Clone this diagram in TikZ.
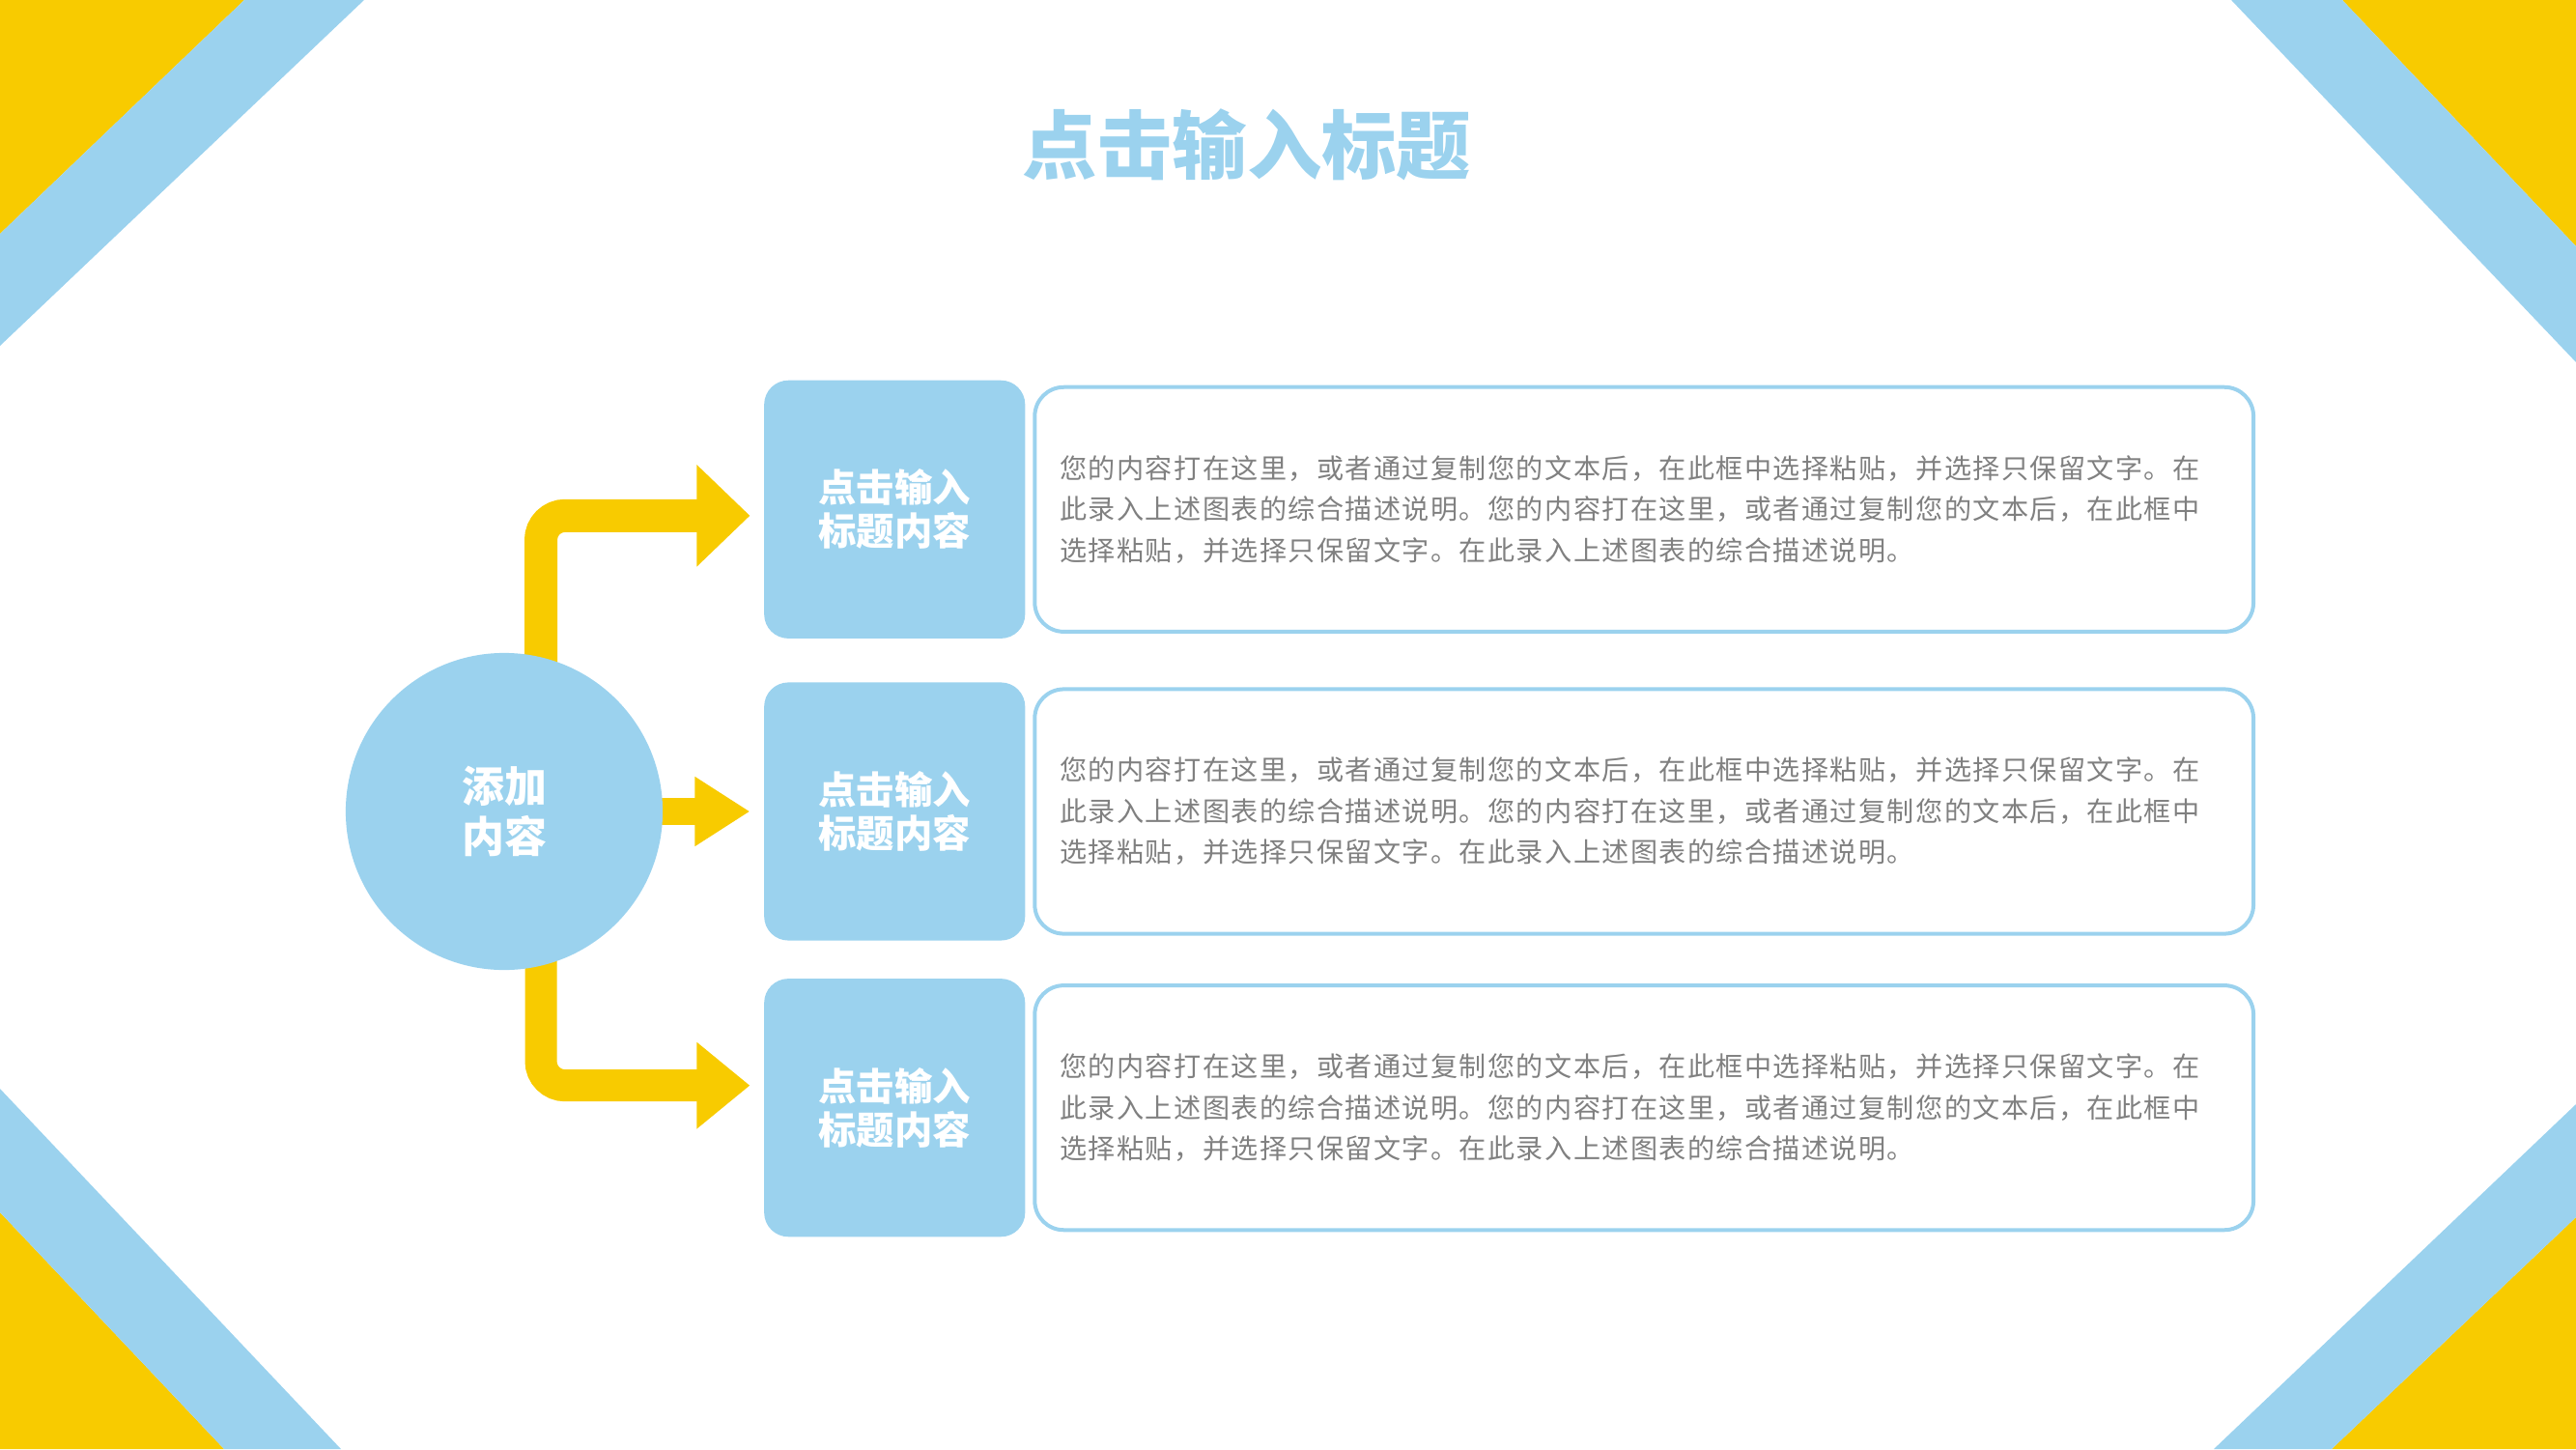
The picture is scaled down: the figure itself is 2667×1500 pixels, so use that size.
\documentclass[tikz,border=0pt]{standalone}
\usepackage{fontspec}
\setmainfont{Noto Sans CJK SC}
\newfontfamily\bodyfont{Noto Sans CJK SC}[LetterSpace=5]
\usepackage{tikz}
\usetikzlibrary{arrows.meta,positioning,backgrounds}
\definecolor{skyblue}{RGB}{155,210,238}
\definecolor{sunyellow}{RGB}{248,203,0}
\definecolor{textgray}{RGB}{128,128,128}
\tikzset{
  hub/.style={circle,fill=skyblue,text=white,inner sep=0pt,minimum size=3.28cm,
    align=center,font=\bfseries\fontsize{12.5}{15}\selectfont},
  titlebox/.style={rectangle,rounded corners=2.5mm,fill=skyblue,text=white,
    minimum width=2.7cm,minimum height=2.67cm,align=center,
    font=\bfseries\fontsize{11.2}{12.8}\selectfont},
  descbox/.style={rectangle,rounded corners=3mm,draw=skyblue,line width=0.4mm,
    minimum width=12.61cm,minimum height=2.53cm,text width=12.09cm,align=left,
    text=textgray,font=\bodyfont\fontsize{8}{12.1}\selectfont},
  flow/.style={draw=sunyellow,rounded corners=2.5mm,shorten >=1.4mm}
}
\newcommand{\desctext}{您的内容打在这里，或者通过复制您的文本后，在此框中选择粘贴，并选择只保留文字。在\\
此录入上述图表的综合描述说明。您的内容打在这里，或者通过复制您的文本后，在此框中\\
选择粘贴，并选择只保留文字。在此录入上述图表的综合描述说明。}

\begin{document}
\begin{tikzpicture}[x=0.01cm,y=-0.01cm,on grid]
  \useasboundingbox (0,0) rectangle (2667,1500);
  % corner stripes
  \fill[sunyellow] (0,0) -- (253,0) -- (0,242) -- cycle;
  \fill[skyblue] (253,0) -- (377,0) -- (0,358) -- (0,242) -- cycle;
  \fill[sunyellow] (2425,0) -- (2667,0) -- (2667,255) -- cycle;
  \fill[skyblue] (2310,0) -- (2425,0) -- (2667,255) -- (2667,375) -- cycle;
  \fill[sunyellow] (0,1255) -- (232,1500) -- (0,1500) -- cycle;
  \fill[skyblue] (0,1127) -- (353,1500) -- (232,1500) -- (0,1255) -- cycle;
  \fill[sunyellow] (2667,1260) -- (2667,1500) -- (2414,1500) -- cycle;
  \fill[skyblue] (2667,1143) -- (2667,1260) -- (2414,1500) -- (2292,1500) -- cycle;

  \node[text=skyblue,font=\bfseries\fontsize{22}{26}\selectfont] (title) at (1291,150) {点击输入标题};

  \node[hub] (hub) at (522,840) {添加\\内容};
  \node[titlebox] (t2) [right=4.04cm of hub] {点击输入\\标题内容};
  \node[titlebox] (t1) [above=3.125cm of t2] {点击输入\\标题内容};
  \node[titlebox] (t3) [below=3.065cm of t2] {点击输入\\标题内容};
  \node[descbox] (d1) [right=7.755cm of t1] {\desctext};
  \node[descbox] (d2) [right=7.755cm of t2] {\desctext};
  \node[descbox] (d3) [right=7.755cm of t3] {\desctext};

  \begin{scope}[on background layer]
    \draw[flow,line width=3.4mm,-{Triangle[length=5.5mm 0 0,width=10.2mm 0 0]}]
      ([xshift=3.8mm]hub.center) |- ([yshift=-0.65mm]t1.west);
    \draw[flow,line width=2.8mm,-{Triangle[length=5.7mm 0 0,width=6.8mm 0 0]}]
      (hub.center) -- (hub.center -| t2.west);
    \draw[flow,line width=3.3mm,-{Triangle[length=5.5mm 0 0,width=8.6mm 0 0]}]
      ([xshift=3.8mm]hub.center) |- ([yshift=2.3mm]t3.west);
  \end{scope}
\end{tikzpicture}
\end{document}
